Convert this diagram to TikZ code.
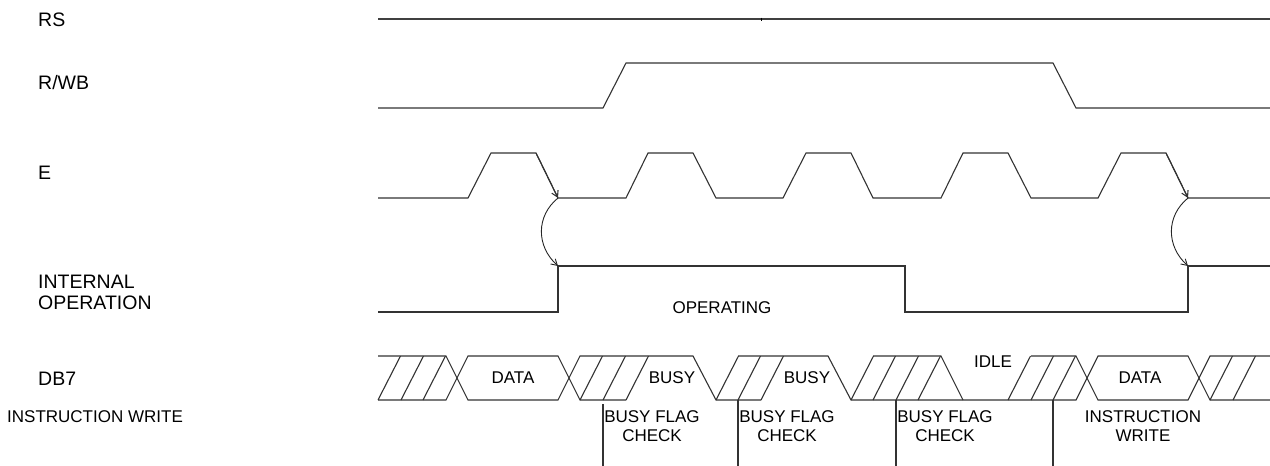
\documentclass[tikz,border=0pt]{standalone}
\usepackage{fontspec}
\setmainfont{Liberation Sans}
\usetikzlibrary{arrows.meta}
\begin{document}
\begin{tikzpicture}[x=1pt,y=-1pt,
  wave/.style={line width=1.1pt, draw=black!80, line join=miter},
  thickwave/.style={line width=1.8pt, draw=black!75},
  lbl/.style={inner sep=0pt, font=\fontsize{19.5}{21}\selectfont, anchor=west, align=left},
  sm/.style={inner sep=0pt, font=\fontsize{17}{19}\selectfont, align=center},
  tip/.style={-{Straight Barb[length=6pt,width=7pt]}},
]
\useasboundingbox (0,0) rectangle (1270,466);

% left labels
\node[lbl] (lrs) at (38,20) {RS};
\node[lbl] (lrw) at (38,83) {R/WB};
\node[lbl] (le) at (38,173) {E};
\node[lbl] (lint) at (38,292.5) {INTERNAL\\OPERATION};
\node[lbl] (ldb) at (38,379) {DB7};
\node[sm, anchor=west] (liw) at (7,417) {INSTRUCTION WRITE};

% RS
\draw[thickwave] (378,19) -- (1270,19);
\draw[line width=1pt] (761,17.5) -- (761,20.5);

% R/WB
\draw[wave] (378,108) -- (603,108) -- (626,63) -- (1053,63) -- (1076,108) -- (1270,108);

% E
\draw[wave] (378,198) -- (468,198) -- (491,153) -- (536,153) -- (558,198)
  -- (626,198) -- (648,153) -- (693,153) -- (716,198)
  -- (783,198) -- (806,153) -- (851,153) -- (873,198)
  -- (941,198) -- (963,153) -- (1008,153) -- (1031,198)
  -- (1098,198) -- (1121,153) -- (1166,153) -- (1188,198) -- (1270,198);
\draw[wave,tip] (536,153) -- (558,198);
\draw[wave,tip] (1166,153) -- (1188,198);

% internal operation
\draw[wave] (378,312) -- (558,312) -- (558,266) -- (905,266) -- (905,312)
  -- (1188,312) -- (1188,266) -- (1270,266);
\node[sm] (lop) at (722,308) {OPERATING};

\coordinate (eA) at (558,198);
\coordinate (iA) at (558,266);
\coordinate (eB) at (1188,198);
\coordinate (iB) at (1188,266);
\draw[line width=0.9pt, draw=black!85, tip] (eA) .. controls (536,216) and (536,246) .. (iA);
\draw[line width=0.9pt, draw=black!85, tip] (eB) .. controls (1166,216) and (1166,246) .. (iB);

% DB7
\draw[wave] (378,356) -- (446,356) -- (468,400) -- (558,400) -- (580,356) -- (693,356) -- (716,400) -- (761,400);
\draw[wave] (378,400) -- (446,400) -- (468,356) -- (558,356) -- (580,400) -- (626,400);
\draw[wave] (738,356) -- (828,356) -- (851,400) -- (1076,400) -- (1098,356) -- (1188,356) -- (1210,400) -- (1270,400);
\draw[wave] (873,356) -- (941,356) -- (963,400);
\draw[wave] (1031,356) -- (1076,356) -- (1098,400) -- (1188,400) -- (1210,356) -- (1270,356);
\foreach \a in {378,401,423, 580,603,626, 716,738,761, 851,873,896,918, 1008,1031,1053, 1210,1233}
  \draw[wave] (\a,400) -- (\a+22.5,356);

\node[sm] (d1) at (513,378) {DATA};
\node[sm] (b1) at (672,378) {BUSY};
\node[sm] (b2) at (807,378) {BUSY};
\node[sm] (idle) at (993,362) {IDLE};
\node[sm] (d2) at (1140,378) {DATA};

% markers
\draw[wave] (603,404) -- (603,466);
\draw[wave] (738,400) -- (738,466);
\draw[wave] (896,400) -- (896,466);
\draw[wave] (1053,400) -- (1053,466);

\node[sm] (bf1) at (652,426.5) {BUSY FLAG\\CHECK};
\node[sm] (bf2) at (787,426.5) {BUSY FLAG\\CHECK};
\node[sm] (bf3) at (945,426.5) {BUSY FLAG\\CHECK};
\node[sm] (iw) at (1143,426.5) {INSTRUCTION\\WRITE};
\end{tikzpicture}
\end{document}
